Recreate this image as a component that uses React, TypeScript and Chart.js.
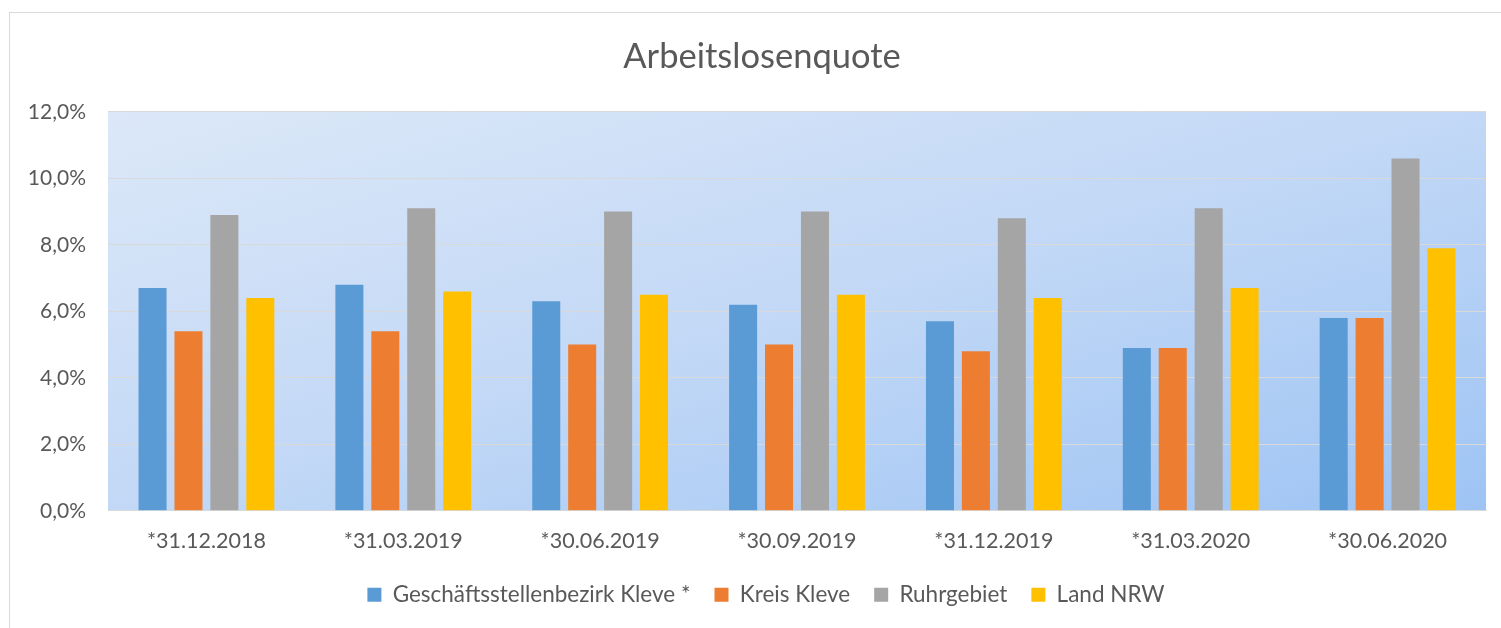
import React, { useEffect, useRef } from "react";
import { Chart, registerables } from "chart.js";

Chart.register(...registerables);

const categories = ["*31.12.2018", "*31.03.2019", "*30.06.2019", "*30.09.2019", "*31.12.2019", "*31.03.2020", "*30.06.2020"];
const gsbKleve = [6.7, 6.8, 6.3, 6.2, 5.7, 4.9, 5.8];
const kreisKleve = [5.4, 5.4, 5.0, 5.0, 4.8, 4.9, 5.8];
const ruhrgebiet = [8.9, 9.1, 9.0, 9.0, 8.8, 9.1, 10.6];
const landNRW = [6.4, 6.6, 6.5, 6.5, 6.4, 6.7, 7.9];
const seriesNames = ["Geschäftsstellenbezirk Kleve *", "Kreis Kleve", "Ruhrgebiet", "Land NRW"];
const seriesColors = ["#5B9BD5", "#ED7D31", "#A5A5A5", "#FFC000"];

const FONT = "Lato, 'Open Sans', sans-serif";
const TEXT = "#595959";

const bgPlugin = {
  id: "plotBg",
  beforeDraw(chart: any) {
    const { ctx, chartArea } = chart;
    if (!chartArea) return;
    const { left, top, right, bottom } = chartArea;
    const W = right - left;
    const H = bottom - top;
    const k = (2 * W * H) / (W * W + H * H);
    const g = ctx.createLinearGradient(left, top, left + H * k, top + W * k);
    g.addColorStop(0, "#DCE8F8");
    g.addColorStop(0.5, "#C2D8F6");
    g.addColorStop(1, "#9EC4F4");
    ctx.save();
    ctx.fillStyle = g;
    ctx.fillRect(left, top, W, H);
    ctx.restore();
  },
};

const blockShift = {
  id: "blockShift",
  afterLayout(chart: any) {
    if (chart.legend) {
      chart.legend.left += 13;
      chart.legend.right += 13;
    }
    if (chart.titleBlock) {
      chart.titleBlock.left += 9;
      chart.titleBlock.right += 9;
    }
  },
};

export default function App() {
  const ref = useRef<HTMLCanvasElement | null>(null);
  useEffect(() => {
    if (!ref.current) return;
    const data = [gsbKleve, kreisKleve, ruhrgebiet, landNRW];
    const chart = new Chart(ref.current, {
      type: "bar",
      data: {
        labels: categories,
        datasets: data.map((d, i) => ({
          label: seriesNames[i],
          data: d,
          backgroundColor: seriesColors[i],
          borderWidth: 0,
          categoryPercentage: 0.73,
          barPercentage: 0.78,
        })),
      },
      plugins: [bgPlugin, blockShift],
      options: {
        animation: false,
        responsive: false,
        maintainAspectRatio: false,
        layout: { padding: { left: 20, right: 15, top: 0, bottom: 12 } },
        plugins: {
          title: {
            display: true,
            text: "Arbeitslosenquote",
            color: TEXT,
            font: { family: FONT, size: 34.5, weight: "normal" },
            padding: { top: 36, bottom: 34.5 },
          },
          legend: {
            position: "bottom",
            labels: {
              color: TEXT,
              font: { family: FONT, size: 22.5 },
              boxWidth: 14,
              boxHeight: 14,
              padding: 24,
            },
          },
          tooltip: { enabled: false },
        },
        scales: {
          x: {
            grid: { display: false, drawTicks: false },
            border: { display: true, color: "#D9D9D9", width: 1 },
            ticks: { color: TEXT, font: { family: FONT, size: 21.5 }, padding: 17, maxRotation: 0 },
            afterFit(scale: any) {
              scale.height = 48.75;
            },
          },
          y: {
            min: 0,
            max: 12,
            grid: { color: "#D9D9D9", lineWidth: 1, drawTicks: false },
            border: { display: false },
            ticks: {
              stepSize: 2,
              color: TEXT,
              font: { family: FONT, size: 21 },
              padding: 22,
              callback: (v: any) => Number(v).toFixed(1).replace(".", ",") + "%",
            },
            afterFit(scale: any) {
              scale.width = 88;
            },
          },
        },
      },
    });
    return () => chart.destroy();
  }, []);
  return (
    <div style={{ position: "absolute", left: 0, top: 0, width: 1501, height: 628, background: "#fff", overflow: "hidden" }}>
      <div style={{ position: "absolute", left: 9, top: 12, width: 1500, height: 640, border: "1px solid #D9D9D9", boxSizing: "border-box" }} />
      <canvas ref={ref} width={1501} height={628} style={{ position: "absolute", left: 0, top: 0, width: 1501, height: 628 }} />
    </div>
  );
}
